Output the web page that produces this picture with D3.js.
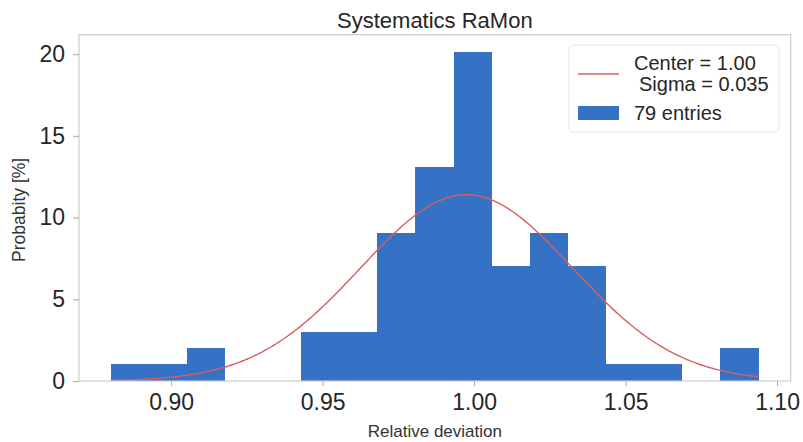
<!DOCTYPE html>
<html>
<head>
<meta charset="utf-8">
<script src="https://cdn.jsdelivr.net/npm/d3@7"></script>
<style>
  html, body { margin: 0; padding: 0; background: #ffffff; }
  svg { display: block; font-family: "Liberation Sans", Arial, sans-serif; }
</style>
</head>
<body>
<svg id="chart" width="803" height="442"></svg>
<script>
// Histogram of relative deviations (density, in %) with fitted Gaussian
const binStart = 0.8801;
const binWidth = 0.01257;
const probability = [1.01, 1.01, 2.01, 0, 0, 3.02, 3.02, 9.06, 13.09, 20.14,
                     7.05, 9.06, 7.05, 1.01, 1.01, 0, 2.01];
const entries = 79;
const fitCenter = 0.9975;
const fitSigma = 0.035;
const xTicks = [0.90, 0.95, 1.00, 1.05, 1.10];
const yTicks = [0, 5, 10, 15, 20];
const titleText = "Systematics RaMon";
const xLabelText = "Relative deviation";
const yLabelText = "Probabity [%]";

const svg = d3.select("#chart");
const plot = { left: 79, right: 790.7, top: 34.7, bottom: 381 };

const x = d3.scaleLinear().domain([0.8696, 1.1045]).range([plot.left, plot.right]);
const y = d3.scaleLinear().domain([0, 21.19]).range([plot.bottom, plot.top]);

const barColor = "#3572c6";
const fitColor = "#d65f5f";
const textColor = "#262626";

// bars (no outline, so equal neighbours read as one block)
const bins = probability.map((v, i) => ({
  x0: binStart + i * binWidth,
  x1: binStart + (i + 1) * binWidth,
  v
}));
svg.append("g").selectAll("rect").data(bins.filter(b => b.v > 0)).join("rect")
  .attr("x", d => x(d.x0))
  .attr("y", d => y(d.v))
  .attr("width", d => x(d.x1) - x(d.x0) + 0.3)
  .attr("height", d => y(0) - y(d.v))
  .attr("fill", barColor)
  .attr("shape-rendering", "crispEdges");

// fitted Gaussian (normalised density, in %)
const gauss = t => Math.exp(-0.5 * ((t - fitCenter) / fitSigma) ** 2) / (fitSigma * Math.sqrt(2 * Math.PI));
const xEnd = binStart + probability.length * binWidth;
const curve = d3.range(0, 301).map(i => binStart + (xEnd - binStart) * i / 300);
svg.append("path")
  .datum(curve)
  .attr("fill", "none")
  .attr("stroke", fitColor)
  .attr("stroke-width", 1.4)
  .attr("d", d3.line().x(d => x(d)).y(d => y(gauss(d))));

// frame
svg.append("rect")
  .attr("x", plot.left).attr("y", plot.top)
  .attr("width", plot.right - plot.left).attr("height", plot.bottom - plot.top)
  .attr("fill", "none").attr("stroke", "#cccccc").attr("stroke-width", 1.2);

// axes
const xAxis = svg.append("g")
  .attr("transform", `translate(0,${plot.bottom})`)
  .call(d3.axisBottom(x).tickValues(xTicks).tickFormat(d3.format(".2f")).tickSize(5).tickPadding(8));
const yAxis = svg.append("g")
  .attr("transform", `translate(${plot.left},0)`)
  .call(d3.axisLeft(y).tickValues(yTicks).tickSize(6).tickPadding(8));
[xAxis, yAxis].forEach(a => {
  a.select(".domain").remove();
  a.selectAll(".tick line").attr("stroke", "#aaaaaa");
  a.selectAll(".tick text")
    .attr("fill", textColor)
    .attr("font-size", 23)
    .attr("font-family", "Liberation Sans, Arial, sans-serif");
});

// title and axis labels
svg.append("text")
  .attr("x", (plot.left + plot.right) / 2).attr("y", 28)
  .attr("text-anchor", "middle").attr("fill", textColor)
  .attr("font-size", 22).text(titleText);
svg.append("text")
  .attr("x", (plot.left + plot.right) / 2).attr("y", 437)
  .attr("text-anchor", "middle").attr("fill", "#333333")
  .attr("font-size", 17).text(xLabelText);
svg.append("text")
  .attr("transform", `translate(25,${(plot.top + plot.bottom) / 2 + 2}) rotate(-90)`)
  .attr("text-anchor", "middle").attr("fill", "#333333")
  .attr("font-size", 17.5).text(yLabelText);

// legend
const lg = svg.append("g");
lg.append("rect")
  .attr("x", 569).attr("y", 45).attr("width", 210).attr("height", 87).attr("rx", 4)
  .attr("fill", "#ffffff").attr("fill-opacity", 0.8)
  .attr("stroke", "#e6e6e6").attr("stroke-width", 1);
lg.append("line")
  .attr("x1", 578).attr("x2", 619).attr("y1", 74).attr("y2", 74)
  .attr("stroke", fitColor).attr("stroke-width", 1.4);
lg.append("text")
  .attr("x", 634).attr("y", 70).attr("fill", textColor).attr("font-size", 20)
  .text(`Center = ${d3.format(".2f")(fitCenter)}`);
lg.append("text")
  .attr("x", 639).attr("y", 91).attr("fill", textColor).attr("font-size", 20)
  .text(`Sigma = ${d3.format(".3f")(fitSigma)}`);
lg.append("rect")
  .attr("x", 578).attr("y", 106).attr("width", 41).attr("height", 14)
  .attr("fill", barColor);
lg.append("text")
  .attr("x", 634).attr("y", 120).attr("fill", textColor).attr("font-size", 20)
  .text(`${entries} entries`);
</script>
</body>
</html>
